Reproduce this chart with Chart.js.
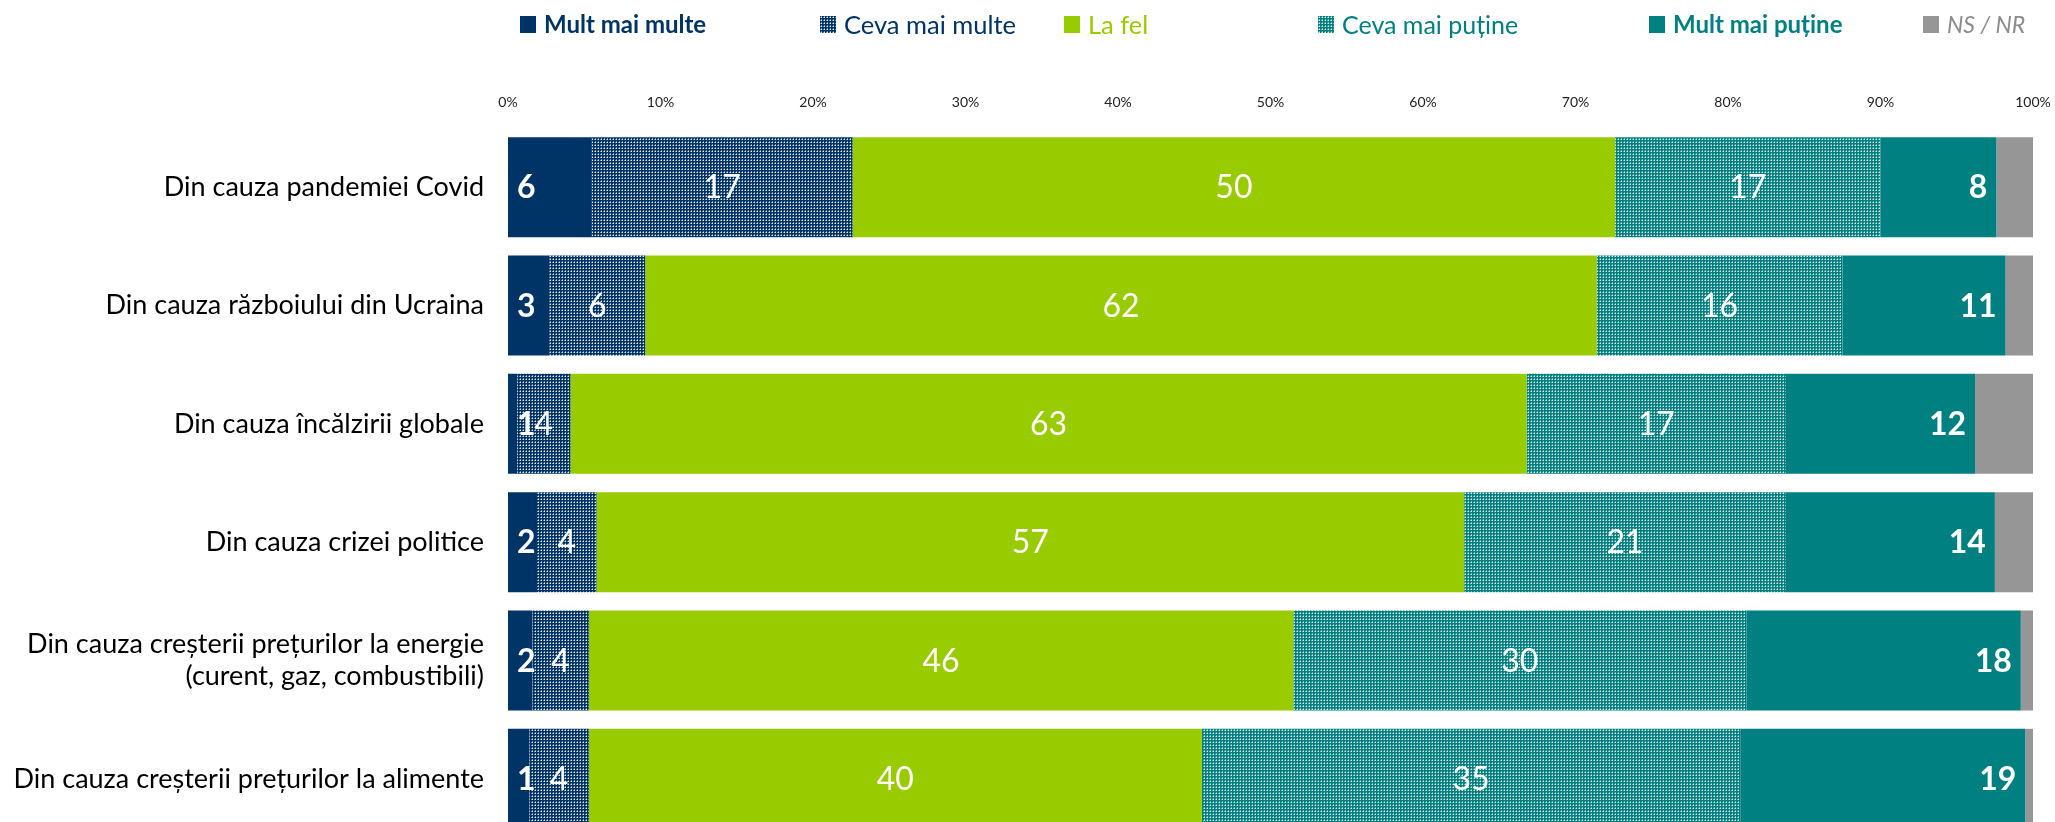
<!DOCTYPE html>
<html>
<head>
<meta charset="utf-8">
<script src="https://cdn.jsdelivr.net/npm/chart.js@4/dist/chart.umd.min.js"></script>
<style>
  html, body { margin: 0; padding: 0; background: #ffffff; overflow: hidden; width: 2055px; height: 822px; }
  #wrap { position: relative; width: 2055px; height: 850px; }
  #chart { position: absolute; left: 0; top: 0; }
  #legend { position: absolute; top: 0; left: 0; width: 2055px; height: 50px;
            font-family: 'Lato', 'Carlito', sans-serif; font-size: 25px; line-height: 30px; }
  .item { position: absolute; top: 9px; display: flex; align-items: center; white-space: nowrap; }
  .box { width: 16px; height: 17px; margin-right: 8px; flex: none; }
</style>
</head>
<body>
<div id="wrap">
  <canvas id="chart" width="2055" height="850" style="width:2055px;height:850px"></canvas>
  <div id="legend"></div>
</div>
<script>
// ---- Data ----
const categories = [
  'Din cauza pandemiei Covid',
  'Din cauza războiului din Ucraina',
  'Din cauza încălzirii globale',
  'Din cauza crizei politice',
  ['Din cauza creșterii prețurilor la energie', '(curent, gaz, combustibili)'],
  'Din cauza creșterii prețurilor la alimente'
];
const seriesNames = ['Mult mai multe', 'Ceva mai multe', 'La fel', 'Ceva mai puține', 'Mult mai puține', 'NS / NR'];
const multMaiMulte   = [5.5, 2.7, 0.6, 1.9, 1.6, 1.4];
const cevaMaiMulte   = [17.1, 6.3, 3.5, 3.9, 3.7, 3.9];
const laFel          = [50.0, 62.4, 62.7, 56.9, 46.2, 40.2];
const cevaMaiPutine  = [17.4, 16.1, 17.0, 21.1, 29.7, 35.3];
const multMaiPutine  = [7.6, 10.7, 12.4, 13.7, 18.0, 18.7];
const nsNr           = [2.4, 1.8, 3.8, 2.5, 0.8, 0.5];
const xTickValues    = [0, 10, 20, 30, 40, 50, 60, 70, 80, 90, 100];

// ---- Styles ----
const NAVY = '#003366', GREEN = '#99CC00', TEAL = '#008080', GRAY = '#969696';
const FONT = "'Lato', 'Carlito', sans-serif";

function makeTile(color) {
  const t = document.createElement('canvas');
  t.width = 3; t.height = 3;
  const c = t.getContext('2d');
  c.fillStyle = color; c.fillRect(0, 0, 3, 3);
  c.fillStyle = 'rgba(255,255,255,0.45)'; c.fillRect(1, 0, 1, 1); c.fillRect(0, 1, 1, 1);
  c.fillStyle = 'rgba(255,255,255,0.9)'; c.fillRect(1, 1, 1, 1);
  return t;
}
const navyTile = makeTile(NAVY), tealTile = makeTile(TEAL);
const ctx = document.getElementById('chart').getContext('2d');
const navyPattern = ctx.createPattern(navyTile, 'repeat');
const tealPattern = ctx.createPattern(tealTile, 'repeat');

const seriesData = [multMaiMulte, cevaMaiMulte, laFel, cevaMaiPutine, multMaiPutine, nsNr];
const seriesFill = [NAVY, navyPattern, GREEN, tealPattern, TEAL, GRAY];
// label mode: 'start' bold, 'center' normal, 'end' bold, null none
const labelMode = ['start', 'center', 'center', 'center', 'end', null];

// ---- HTML legend ----
const legendStyles = [
  { color: NAVY, weight: 700, style: 'normal', size: 24, bg: NAVY },
  { color: NAVY, weight: 400, style: 'normal', size: 25.5, bg: 'url(' + navyTile.toDataURL() + ')' },
  { color: GREEN, weight: 400, style: 'normal', size: 25.5, bg: GREEN },
  { color: TEAL, weight: 400, style: 'normal', size: 25, bg: 'url(' + tealTile.toDataURL() + ')' },
  { color: TEAL, weight: 700, style: 'normal', size: 24, bg: TEAL },
  { color: '#8c8c8c', weight: 400, style: 'italic', size: 23, bg: GRAY }
];
const legendX = [520, 820, 1064, 1318, 1649, 1923];
const legendEl = document.getElementById('legend');
seriesNames.forEach((name, i) => {
  const s = legendStyles[i];
  const item = document.createElement('div'); item.className = 'item';
  item.style.left = legendX[i] + 'px';
  const box = document.createElement('span'); box.className = 'box'; box.style.background = s.bg;
  const txt = document.createElement('span'); txt.textContent = name;
  txt.style.color = s.color; txt.style.fontWeight = s.weight; txt.style.fontStyle = s.style;
  txt.style.fontSize = s.size + 'px';
  item.appendChild(box); item.appendChild(txt); legendEl.appendChild(item);
});

// ---- Data labels plugin ----
const barLabels = {
  id: 'barLabels',
  afterDatasetsDraw(chart) {
    const c = chart.ctx;
    c.save();
    c.fillStyle = '#ffffff';
    c.textBaseline = 'middle';
    chart.data.datasets.forEach((ds, di) => {
      const mode = labelMode[di];
      if (!mode) return;
      const meta = chart.getDatasetMeta(di);
      meta.data.forEach((el, i) => {
        const v = ds.data[i];
        const txt = String(Math.round(v));
        const left = Math.min(el.x, el.base), right = Math.max(el.x, el.base);
        if (mode === 'start') {
          c.font = 'bold 32px ' + FONT; c.textAlign = 'left';
          c.fillText(txt, left + 9, el.y + 1);
        } else if (mode === 'end') {
          c.font = 'bold 32px ' + FONT; c.textAlign = 'right';
          c.fillText(txt, right - 9, el.y + 1);
        } else {
          c.font = '32px ' + FONT; c.textAlign = 'center';
          c.fillText(txt, (left + right) / 2, el.y + 1);
        }
      });
    });
    c.restore();
  }
};

new Chart(ctx, {
  type: 'bar',
  data: {
    labels: categories,
    datasets: seriesNames.map((name, i) => ({
      label: name,
      data: seriesData[i],
      backgroundColor: seriesFill[i],
      borderWidth: 0,
      categoryPercentage: 0.845,
      barPercentage: 1.0
    }))
  },
  options: {
    indexAxis: 'y',
    responsive: false,
    animation: false,
    devicePixelRatio: 1,
    layout: { padding: { left: 0, right: 22, top: 0, bottom: 12 } },
    plugins: { legend: { display: false }, tooltip: { enabled: false } },
    scales: {
      x: {
        stacked: true, min: 0, max: 100, position: 'top',
        afterBuildTicks(scale) { scale.ticks = xTickValues.map(v => ({ value: v })); },
        afterFit(scale) { scale.height = 128; scale.paddingLeft = 0; scale.paddingRight = 0; },
        grid: { display: false, drawTicks: false },
        border: { display: false },
        ticks: { padding: 17, color: '#222222', font: { family: FONT, size: 14 }, callback: v => v + '%', maxRotation: 0 }
      },
      y: {
        stacked: true,
        afterFit(scale) { scale.width = 508; scale.paddingTop = 0; scale.paddingBottom = 0; },
        grid: { display: false, drawTicks: false },
        border: { display: false },
        ticks: { padding: 24, color: '#000000', font: { family: FONT, size: 27 }, lineHeight: 1.35 }
      }
    }
  },
  plugins: [barLabels]
});
</script>
</body>
</html>
